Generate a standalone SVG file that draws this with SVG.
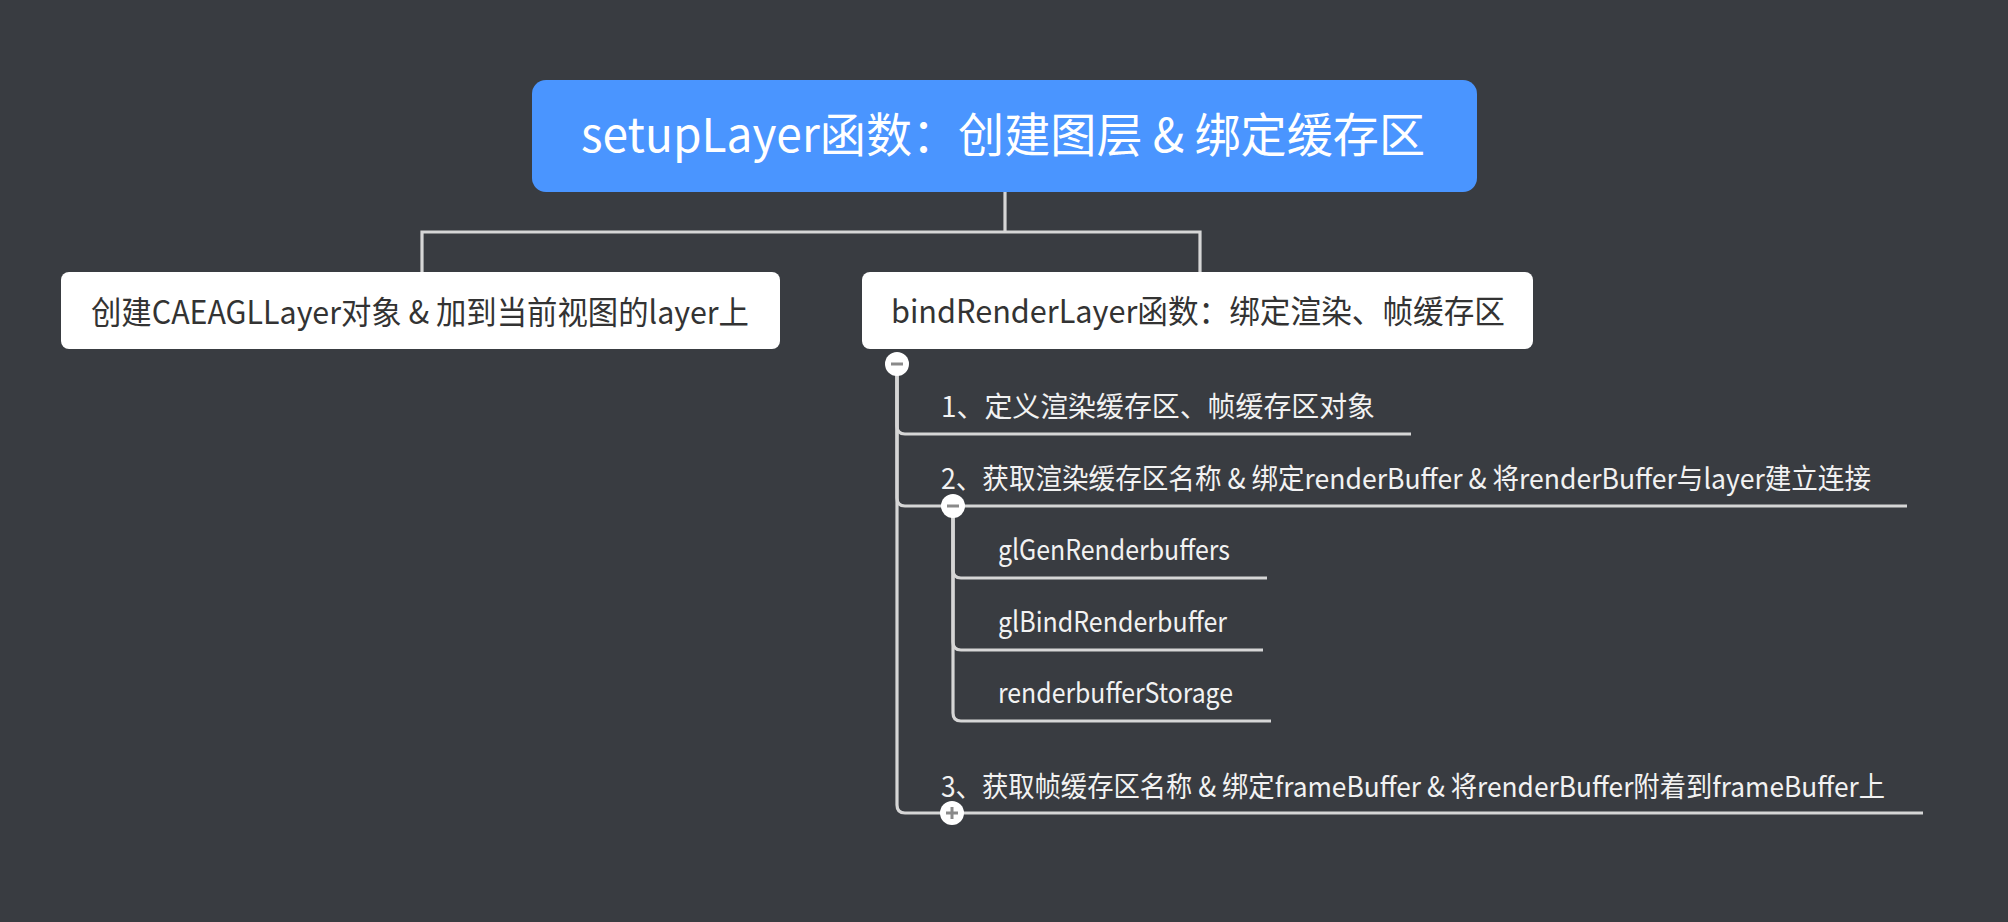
<svg xmlns="http://www.w3.org/2000/svg" width="2008" height="922" viewBox="0 0 2008 922">
<style>
text{font-family:"Noto Sans CJK SC","Noto Sans",sans-serif}
.line{fill:none;stroke:#d6d6d6;stroke-width:3.2}
.btn{fill:#ffffff}
.sign{fill:#8a8a8a}
.item{font-size:28px;fill:#f2f2f2}
.node{fill:#ffffff}
.nodetext{font-size:32px;fill:#333333;text-anchor:middle}
</style>
<rect x="0" y="0" width="2008" height="922" fill="#393c41"/>
<g id="connectors">
<path class="line" d="M1005,192 V232"/>
<path class="line" d="M422,272 V232 H1200 V272"/>
<path class="line" d="M897,364 V426 Q897,434 905,434 H1411"/>
<path class="line" d="M897,364 V498 Q897,506 905,506 H1907"/>
<path class="line" d="M897,364 V805 Q897,813 905,813 H1923"/>
<path class="line" d="M953,506 V570 Q953,578 961,578 H1267"/>
<path class="line" d="M953,506 V642 Q953,650 961,650 H1263"/>
<path class="line" d="M953,506 V713 Q953,721 961,721 H1271"/>
</g>
<g id="root">
<rect x="532" y="80" width="945" height="112" rx="14" fill="#4a95ff"/>
<text x="1003" y="152" font-size="47" fill="#ffffff" text-anchor="middle" textLength="844" lengthAdjust="spacingAndGlyphs">setupLayer函数：创建图层 &amp; 绑定缓存区</text>
</g>
<g id="node-left">
<rect class="node" x="61" y="272" width="719" height="77" rx="8"/>
<text class="nodetext" x="420" y="324" textLength="658" lengthAdjust="spacingAndGlyphs">创建CAEAGLLayer对象 &amp; 加到当前视图的layer上</text>
</g>
<g id="node-right">
<rect class="node" x="862" y="272" width="671" height="77" rx="8"/>
<text class="nodetext" x="1198" y="323" textLength="614" lengthAdjust="spacingAndGlyphs">bindRenderLayer函数：绑定渲染、帧缓存区</text>
</g>
<g id="btn-right">
<circle class="btn" cx="897" cy="364" r="12"/>
<rect class="sign" x="891" y="362.5" width="12" height="3"/>
</g>
<g id="item1">
<text class="item" x="941" y="417" textLength="434" lengthAdjust="spacingAndGlyphs">1、定义渲染缓存区、帧缓存区对象</text>
</g>
<g id="item2">
<text class="item" x="941" y="489" textLength="930" lengthAdjust="spacingAndGlyphs">2、获取渲染缓存区名称 &amp; 绑定renderBuffer &amp; 将renderBuffer与layer建立连接</text>
</g>
<g id="btn-item2">
<circle class="btn" cx="953" cy="506" r="12"/>
<rect class="sign" x="947" y="504.5" width="12" height="3"/>
</g>
<g id="sub1">
<text class="item" x="998" y="560" textLength="232" lengthAdjust="spacingAndGlyphs">glGenRenderbuffers</text>
</g>
<g id="sub2">
<text class="item" x="998" y="632" textLength="229" lengthAdjust="spacingAndGlyphs">glBindRenderbuffer</text>
</g>
<g id="sub3">
<text class="item" x="998" y="703" textLength="235" lengthAdjust="spacingAndGlyphs">renderbufferStorage</text>
</g>
<g id="item3">
<text class="item" x="941" y="797" textLength="944" lengthAdjust="spacingAndGlyphs">3、获取帧缓存区名称 &amp; 绑定frameBuffer &amp; 将renderBuffer附着到frameBuffer上</text>
</g>
<g id="btn-item3">
<circle class="btn" cx="952" cy="813" r="12"/>
<rect class="sign" x="946" y="811.5" width="12" height="3"/>
<rect class="sign" x="950.5" y="807" width="3" height="12"/>
</g>
</svg>
